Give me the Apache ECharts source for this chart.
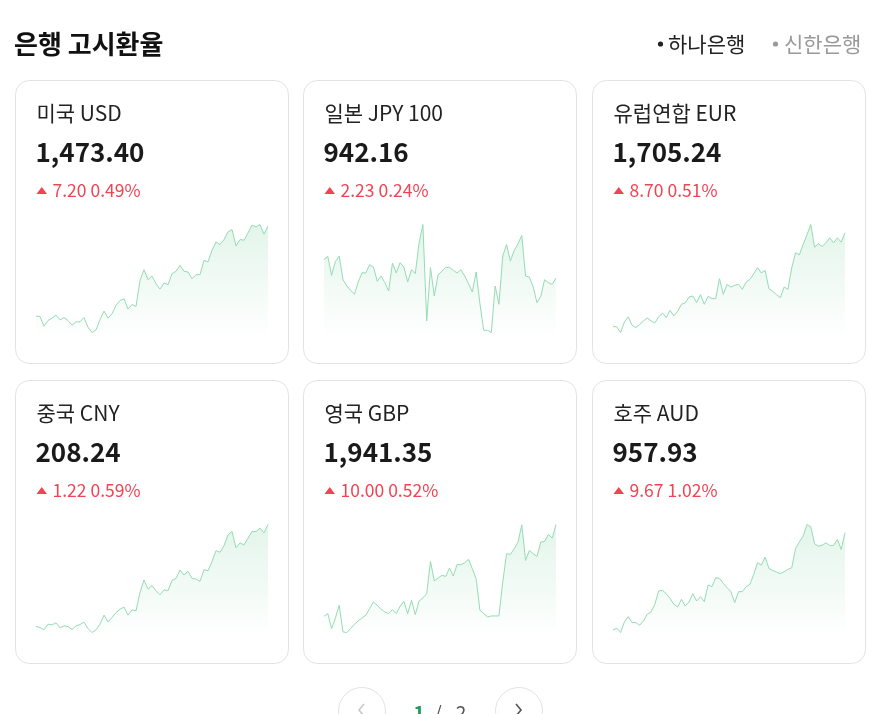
<!DOCTYPE html>
<html><head><meta charset="utf-8">
<script src="https://cdn.jsdelivr.net/npm/echarts@6/dist/echarts.min.js"></script>
<style>html,body{margin:0;padding:0;background:#fff}#c{width:884px;height:714px}</style>
</head><body><div id="c"></div>
<script>
const titleText = '은행 고시환율';
const legendItems = ['하나은행', '신한은행'];
const currencyNames = ['미국 USD', '일본 JPY 100', '유럽연합 EUR', '중국 CNY', '영국 GBP', '호주 AUD'];
const currentRates = ['1,473.40', '942.16', '1,705.24', '208.24', '1,941.35', '957.93'];
const changeAmounts = ['7.20', '2.23', '8.70', '1.22', '10.00', '9.67'];
const changePercents = ['0.49%', '0.24%', '0.51%', '0.59%', '0.52%', '1.02%'];
const pageLabels = ['1', '/', '2'];

const usdValues = [1392.7,1392.4,1383.7,1388.8,1390.9,1393.6,1389.4,1391.5,1388.8,1384.6,1387.6,1387.6,1391.5,1382.8,1378.0,1380.4,1389.4,1397.2,1390.9,1394.8,1402.3,1406.8,1408.3,1399.0,1403.2,1401.4,1424.8,1434.4,1425.4,1428.7,1421.8,1417.0,1422.4,1420.9,1430.8,1432.9,1438.3,1432.9,1432.3,1426.3,1429.9,1429.9,1442.8,1441.3,1451.8,1459.3,1456.9,1461.4,1468.3,1470.4,1455.7,1461.4,1460.8,1467.4,1474.3,1472.8,1474.9,1466.2,1473.4];
const jpyValues = [947.76,948.66,942.96,947.16,948.76,941.66,939.76,938.46,937.26,940.96,943.76,943.66,946.16,945.46,941.16,942.76,940.76,938.26,946.66,943.66,946.76,945.46,940.96,944.66,943.46,952.76,958.26,929.26,945.26,936.76,943.16,944.16,945.36,945.36,944.46,943.66,944.66,942.76,940.46,937.96,943.96,934.46,926.46,926.46,925.76,939.76,934.26,948.76,952.26,947.26,950.46,952.46,954.96,942.76,942.46,939.46,934.76,936.66,941.66,940.76,940.26,942.16];
const eurValues = [1620.94,1620.34,1615.24,1624.84,1629.34,1621.84,1619.74,1622.44,1625.74,1628.44,1625.74,1623.94,1629.34,1632.94,1628.74,1635.34,1630.24,1634.44,1640.74,1641.94,1647.34,1648.24,1642.24,1649.44,1640.74,1647.94,1645.84,1645.84,1663.84,1649.74,1658.74,1656.34,1657.84,1658.74,1654.24,1660.84,1663.24,1668.34,1673.74,1668.94,1671.34,1654.84,1652.44,1649.44,1646.74,1656.34,1654.24,1673.74,1687.24,1685.44,1694.74,1703.44,1712.74,1692.34,1695.34,1692.94,1696.24,1700.74,1696.24,1700.74,1696.84,1705.24];
const cnyValues = [196.04,195.92,195.64,196.32,196.24,196.48,195.88,196.12,196.04,195.68,196.12,196.28,196.56,195.80,195.32,195.64,196.32,197.40,196.60,197.12,197.72,198.12,198.36,197.40,198.04,197.92,200.12,201.60,200.52,200.92,200.32,199.84,200.44,200.32,201.56,201.80,202.80,202.20,202.64,201.80,201.72,201.44,202.84,202.72,203.80,205.12,204.92,205.72,207.00,207.40,205.44,206.04,205.80,206.60,207.40,207.40,207.80,207.24,208.24];
const gbpValues = [1844.75,1847.55,1831.80,1843.00,1856.30,1828.30,1827.60,1831.80,1836.35,1839.85,1843.00,1845.80,1852.80,1859.80,1856.30,1852.10,1849.30,1847.55,1851.75,1847.55,1855.25,1860.50,1847.55,1861.55,1846.50,1860.85,1864.00,1868.55,1902.50,1881.85,1885.00,1887.80,1886.75,1895.50,1887.10,1899.35,1899.00,1901.10,1904.60,1894.80,1884.30,1851.05,1847.55,1844.05,1845.10,1845.10,1845.10,1880.80,1910.55,1909.85,1915.80,1922.80,1941.00,1903.55,1914.05,1910.55,1907.75,1922.80,1923.50,1930.85,1927.00,1941.35];
const audValues = [914.13,914.88,912.93,917.73,920.13,917.43,917.43,916.23,918.18,921.18,922.23,925.68,931.68,931.98,930.48,928.38,925.68,924.48,927.93,924.93,926.73,930.48,927.18,929.13,926.88,934.38,933.63,937.68,937.38,935.13,933.18,931.38,926.43,931.38,931.38,933.63,934.68,939.18,944.43,943.38,946.98,941.88,940.98,940.23,939.48,940.38,941.43,942.18,950.88,953.88,956.43,961.68,960.63,952.98,951.93,952.38,953.43,952.23,952.23,954.93,950.43,957.93];

const seriesValues = [usdValues, jpyValues, eurValues, cnyValues, gbpValues, audValues];

const FONT = "'Noto Sans CJK KR', 'Noto Sans', sans-serif";
const cardX = [15.5, 303.5, 592.5];
const cardY = [80.5, 380.5];
const cardW = 273, cardH = 283;

const chart = echarts.init(document.getElementById('c'));
const grids = [], xAxes = [], yAxes = [], series = [], graphics = [];

graphics.push({type:'text', style:{text:titleText, x:14, y:44, fontSize:26, fontWeight:'bold', fontFamily:FONT, fill:'#111', verticalAlign:'middle'}});
// legend
graphics.push({type:'circle', shape:{cx:660.5, cy:44, r:2.6}, style:{fill:'#222'}});
graphics.push({type:'text', style:{text:legendItems[0], x:668, y:44, fontSize:21, fontFamily:FONT, fill:'#222', verticalAlign:'middle'}});
graphics.push({type:'circle', shape:{cx:775.5, cy:44, r:2.6}, style:{fill:'#999'}});
graphics.push({type:'text', style:{text:legendItems[1], x:784, y:44, fontSize:21, fontFamily:FONT, fill:'#999', verticalAlign:'middle'}});

for (let i = 0; i < 6; i++) {
  const cx = cardX[i % 3], cy = cardY[Math.floor(i / 3)];
  graphics.push({type:'rect', z:-1, shape:{x:cx, y:cy, width:cardW, height:cardH, r:14}, style:{fill:'#fff', stroke:'#e3e3e3', lineWidth:1}});
  graphics.push({type:'text', style:{text:currencyNames[i], x:cx + 21, y:cy + 33, fontSize:21, fontFamily:FONT, fill:'#222', verticalAlign:'middle'}});
  graphics.push({type:'text', style:{text:currentRates[i], x:cx + 20, y:cy + 72, fontSize:26, fontWeight:'bold', fontFamily:FONT, fill:'#1a1a1a', verticalAlign:'middle'}});
  graphics.push({type:'polygon', shape:{points:[[cx + 21, cy + 113.5], [cx + 31.5, cy + 113.5], [cx + 26.25, cy + 106.5]]}, style:{fill:'#f04452'}});
  graphics.push({type:'text', style:{text:changeAmounts[i] + ' ' + changePercents[i], x:cx + 37, y:cy + 110, fontSize:17.5, fontFamily:FONT, fill:'#f04452', verticalAlign:'middle'}});

  grids.push({left:cx + 20.5, top:cy + 144, width:232, height:114});
  const vals = seriesValues[i];
  xAxes.push({type:'category', gridIndex:i, show:false, boundaryGap:false, data: vals.map((_, k) => k)});
  yAxes.push({type:'value', gridIndex:i, show:false, splitLine:{show:false},
    max: v => v.max, min: v => v.min - (v.max - v.min) * 0.055});
  series.push({type:'line', xAxisIndex:i, yAxisIndex:i, data: vals, symbol:'none', silent:true,
    lineStyle:{width:1, color:'#94dcb4'},
    areaStyle:{color: new echarts.graphic.LinearGradient(0,0,0,1,[{offset:0,color:'rgba(72,190,120,0.22)'},{offset:1,color:'rgba(72,190,120,0.0)'}])}});
}

// pagination
graphics.push({type:'circle', shape:{cx:362, cy:711, r:23.5}, style:{fill:'#fff', stroke:'#e3e3e3', lineWidth:1}});
graphics.push({type:'polyline', shape:{points:[[364, 704], [359, 710], [364, 716]]}, style:{stroke:'#c8c8c8', lineWidth:1.6, fill:null}});
graphics.push({type:'circle', shape:{cx:519, cy:711, r:23.5}, style:{fill:'#fff', stroke:'#e3e3e3', lineWidth:1}});
graphics.push({type:'polyline', shape:{points:[[516, 704], [521, 710], [516, 716]]}, style:{stroke:'#555', lineWidth:1.6, fill:null}});
graphics.push({type:'text', style:{text:pageLabels[0], x:419, y:713, fontSize:19, fontWeight:'bold', fontFamily:FONT, fill:'#1aa05a', align:'center', verticalAlign:'middle'}});
graphics.push({type:'text', style:{text:pageLabels[1], x:438, y:713, fontSize:19, fontFamily:FONT, fill:'#555', align:'center', verticalAlign:'middle'}});
graphics.push({type:'text', style:{text:pageLabels[2], x:461, y:713, fontSize:19, fontFamily:FONT, fill:'#555', align:'center', verticalAlign:'middle'}});

chart.setOption({animation:false, backgroundColor:'#fff', grid:grids, xAxis:xAxes, yAxis:yAxes, series:series, graphic:graphics});
</script></body></html>
